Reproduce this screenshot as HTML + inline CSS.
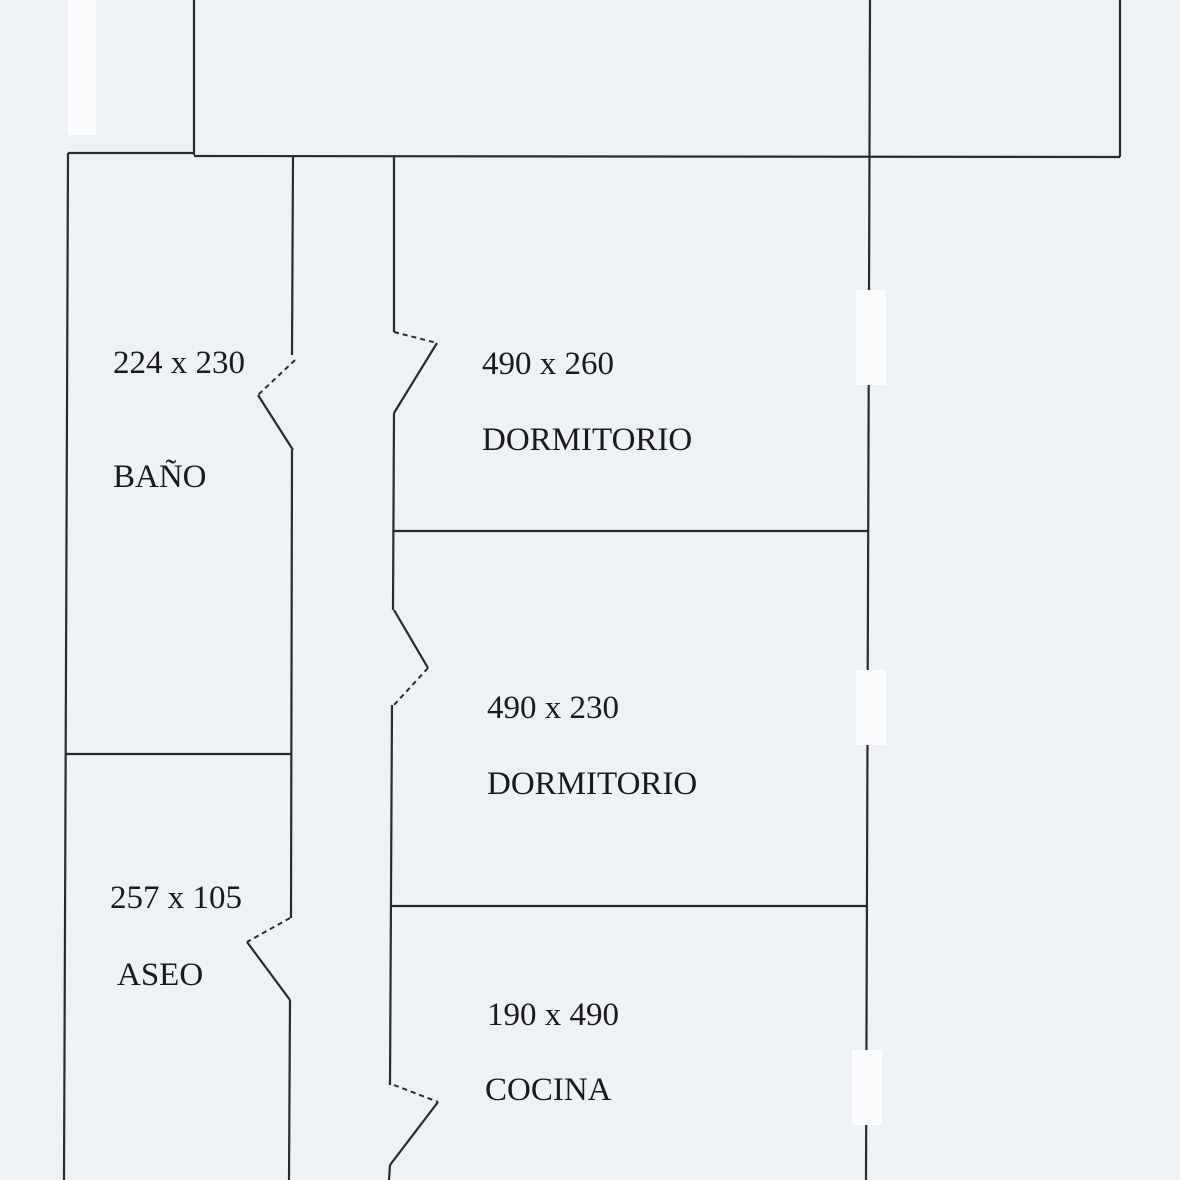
<!DOCTYPE html>
<html><head><meta charset="utf-8"><style>
html,body{margin:0;padding:0;background:#eef1f6;}
svg{display:block}
text{font-family:"Liberation Serif",serif;font-size:33px;fill:#1a1a1a;}
</style></head><body>
<svg width="1180" height="1180" viewBox="0 0 1180 1180">
<rect width="1180" height="1180" fill="#eef1f6"/>
<rect x="68" y="0" width="28" height="135" fill="#fbfcfd"/>
<g stroke="#2a2a2a" stroke-width="2.2" fill="none">
<line x1="194" y1="0" x2="194" y2="155"/>
<line x1="68" y1="153" x2="194" y2="153"/>
<line x1="194" y1="156" x2="1120" y2="157"/>
<line x1="1120" y1="0" x2="1120" y2="157"/>
<line x1="870" y1="0" x2="866" y2="1180"/>
<line x1="68" y1="153" x2="64" y2="1180"/>
<line x1="293" y1="157" x2="292" y2="355"/>
<line x1="292" y1="450" x2="291" y2="918"/>
<line x1="290" y1="1000" x2="289" y2="1180"/>
<line x1="394" y1="157" x2="394" y2="332"/>
<line x1="394" y1="413" x2="393" y2="610"/>
<line x1="392" y1="705" x2="390" y2="1085"/>
<line x1="390" y1="1165" x2="389" y2="1180"/>
<line x1="394" y1="531" x2="868" y2="531"/>
<line x1="390" y1="906" x2="866" y2="906"/>
<line x1="66" y1="754" x2="291" y2="754"/>
<line x1="258" y1="395" x2="293" y2="450"/>
<line x1="437" y1="343" x2="394" y2="413"/>
<line x1="394" y1="610" x2="428" y2="668"/>
<line x1="247" y1="942" x2="290" y2="1000"/>
<line x1="438" y1="1102" x2="390" y2="1165"/>
</g>
<g stroke="#2a2a2a" stroke-width="2" fill="none" stroke-dasharray="5,4">
<line x1="295" y1="360" x2="258" y2="395"/>
<line x1="394" y1="332" x2="437" y2="343"/>
<line x1="428" y1="668" x2="394" y2="705"/>
<line x1="290" y1="918" x2="247" y2="942"/>
<line x1="394" y1="1085" x2="438" y2="1102"/>
</g>
<g fill="#fbfcfd">
<rect x="856" y="290" width="30" height="95"/>
<rect x="856" y="670" width="30" height="75"/>
<rect x="852" y="1050" width="30" height="75"/>
</g>
<text x="113" y="373">224 x 230</text>
<text x="113" y="487">BAÑO</text>
<text x="482" y="374">490 x 260</text>
<text x="482" y="450">DORMITORIO</text>
<text x="487" y="718">490 x 230</text>
<text x="487" y="794">DORMITORIO</text>
<text x="110" y="908">257 x 105</text>
<text x="117" y="985">ASEO</text>
<text x="487" y="1025">190 x 490</text>
<text x="485" y="1100">COCINA</text>
</svg>
</body></html>
